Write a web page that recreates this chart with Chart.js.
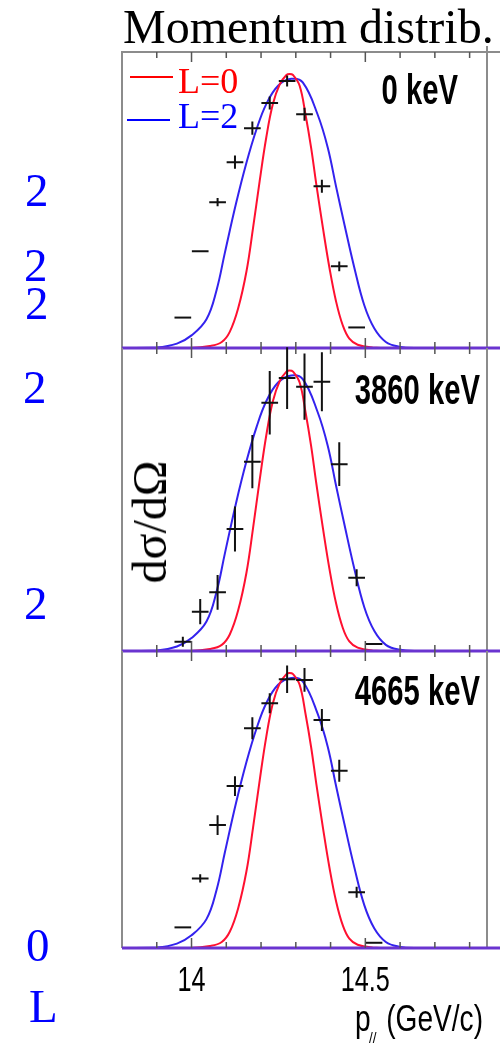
<!DOCTYPE html>
<html>
<head>
<meta charset="utf-8">
<script src="https://cdn.jsdelivr.net/npm/chart.js"></script>
<style>
  body { margin: 0; background: #fff; width: 500px; height: 1055px; position: relative; overflow: hidden; }
  canvas { position: absolute; left: 0; top: 0; }
  .serif { position: absolute; font-family: "Liberation Serif", "Times New Roman", serif; line-height: 1; white-space: nowrap; }
  .side { color: #0000ff; font-size: 47px; }
  .key { position: absolute; height: 2px; }
</style>
</head>
<body>
<canvas id="panel1" width="500" height="1055"></canvas>
<canvas id="panel2" width="500" height="1055"></canvas>
<canvas id="panel3" width="500" height="1055"></canvas>

<div class="serif" style="left:123px; top:3px; font-size:48px; color:#000;">Momentum distrib.</div>

<div class="key" style="left:130px; top:76px; width:43px; background:#ff0000;"></div>
<div class="serif" style="left:178px; top:63px; font-size:36px; color:#ff0000;">L=0</div>
<div class="key" style="left:127px; top:119px; width:43px; background:#0000ff;"></div>
<div class="serif" style="left:178px; top:98px; font-size:36px; color:#0000ff;">L=2</div>

<div class="serif" style="left:150px; top:522px; font-size:48px; color:#000; transform: translate(-50%, -50%) rotate(-90deg);">dσ/dΩ</div>

<div class="serif side" style="left:25px; top:167px;">2</div>
<div class="serif side" style="left:24px; top:242px;">2</div>
<div class="serif side" style="left:25px; top:280px;">2</div>
<div class="serif side" style="left:23px; top:364px;">2</div>
<div class="serif side" style="left:24px; top:580px;">2</div>
<div class="serif side" style="left:26px; top:922px;">0</div>
<div class="serif side" style="left:29px; top:983px;">L</div>

<script>
// momentum axis (GeV/c)
const xMin = 13.8;
const xMax = 14.85;
const xTicks = [13.9, 14.0, 14.1, 14.2, 14.3, 14.4, 14.5, 14.6, 14.7, 14.8];
const majorTicks = [14.0, 14.5];
const majorLabels = ['14', '14.5'];
const yMax = 1.08;

const panelLabels = ['0 keV', '3860 keV', '4665 keV'];

// measured points (bin centres), shared by all panels
const pointX = [13.975, 14.025, 14.075, 14.125, 14.175, 14.225, 14.275, 14.325, 14.375, 14.425, 14.475, 14.525];
const binHalf = 0.024;

const panel1Y = [0.111, 0.353, 0.532, 0.678, 0.802, 0.894, 0.974, 0.853, 0.590, 0.298, 0.075];
const panel1Err = [0, 0, 0.015, 0.024, 0.024, 0.024, 0.02, 0.024, 0.024, 0.018, 0];

const panel2Y = [0.033, 0.140, 0.209, 0.435, 0.675, 0.885, 0.973, 0.942, 0.960, 0.666, 0.261, 0.025];
const panel2Err = [0.018, 0.045, 0.062, 0.080, 0.095, 0.113, 0.110, 0.118, 0.105, 0.078, 0.030, 0];

const panel3Y = [0.075, 0.253, 0.447, 0.589, 0.799, 0.890, 0.977, 0.975, 0.829, 0.645, 0.203, 0.019];
const panel3Err = [0, 0.015, 0.036, 0.036, 0.040, 0.036, 0.050, 0.043, 0.040, 0.040, 0.020, 0];

// calculated L=0 curve
const redX = [13.8, 13.996, 14.053, 14.087, 14.110, 14.134, 14.158, 14.177, 14.196, 14.215, 14.234, 14.254, 14.273, 14.282,
  14.292, 14.311, 14.328, 14.344, 14.359, 14.378, 14.397, 14.416, 14.435, 14.454, 14.478, 14.521, 14.578, 14.846];
const redY = [0, 0, 0.007, 0.022, 0.059, 0.144, 0.279, 0.438, 0.609, 0.768, 0.890, 0.963, 0.996, 1.0,
  0.996, 0.957, 0.851, 0.731, 0.597, 0.438, 0.291, 0.169, 0.083, 0.034, 0.012, 0.002, 0, 0];

// calculated L=2 curve
const blueX = [13.8, 13.900, 13.958, 14.0, 14.043, 14.072, 14.096, 14.128, 14.158, 14.187, 14.215, 14.249, 14.287,
  14.320, 14.363, 14.392, 14.416, 14.440, 14.468, 14.497, 14.526, 14.559, 14.597, 14.645, 14.846];
const blueY = [0, 0.002, 0.016, 0.046, 0.105, 0.211, 0.348, 0.527, 0.676, 0.798, 0.890, 0.957, 0.982,
  0.969, 0.851, 0.731, 0.588, 0.450, 0.295, 0.156, 0.071, 0.022, 0.005, 0, 0];

const RED = '#ff1030';
const BLUE = '#3322ee';

// squeezed helvetica-like text, as in the original figure
function squeezed(ctx, text, x, y, sx, align) {
  ctx.save();
  ctx.translate(x, y);
  ctx.scale(sx, 1);
  ctx.textAlign = align;
  ctx.fillText(text, 0, 0);
  ctx.restore();
}

const framePlugin = {
  id: 'frame',
  afterDatasetsDraw(chart, args, o) {
    const { ctx, chartArea: a, scales: { x, y } } = chart;
    ctx.save();

    // data points with error bars
    ctx.strokeStyle = '#111';
    ctx.lineWidth = 2;
    chart.data.datasets[2].data.forEach(p => {
      const px = x.getPixelForValue(p.x);
      const py = y.getPixelForValue(p.y);
      ctx.beginPath();
      ctx.moveTo(x.getPixelForValue(p.x - binHalf), py);
      ctx.lineTo(x.getPixelForValue(p.x + binHalf), py);
      if (p.err > 0) {
        ctx.moveTo(px, y.getPixelForValue(p.y + p.err));
        ctx.lineTo(px, y.getPixelForValue(p.y - p.err));
      }
      ctx.stroke();
    });

    // frame
    ctx.strokeStyle = '#8c8c8c';
    ctx.lineWidth = 2;
    ctx.beginPath();
    ctx.moveTo(a.left, a.bottom);
    ctx.lineTo(a.left, a.top);
    if (o.topLine) ctx.lineTo(chart.width, a.top);
    ctx.moveTo(a.right, a.top - (o.topLine ? 6 : 0));
    ctx.lineTo(a.right, a.bottom);
    ctx.stroke();

    // zero line
    ctx.strokeStyle = '#6a34d0';
    ctx.lineWidth = 3;
    ctx.beginPath();
    ctx.moveTo(a.left, a.bottom);
    ctx.lineTo(chart.width, a.bottom);
    ctx.stroke();

    // inward ticks top and bottom
    ctx.strokeStyle = '#555';
    ctx.lineWidth = 1.5;
    ctx.beginPath();
    xTicks.forEach(v => {
      const px = x.getPixelForValue(v);
      const len = majorTicks.includes(v) ? 10 : 6;
      ctx.moveTo(px, a.top);
      ctx.lineTo(px, a.top + len);
      ctx.moveTo(px, a.bottom);
      ctx.lineTo(px, a.bottom - len);
    });
    ctx.stroke();

    // panel label
    ctx.fillStyle = '#000';
    ctx.font = 'bold 43px "Liberation Sans", Arial, sans-serif';
    squeezed(ctx, o.label, o.labelRight, a.top + o.labelDrop, 0.68, 'right');

    // axis labels under the last panel
    if (o.axis) {
      ctx.font = '35px "Liberation Sans", Arial, sans-serif';
      majorTicks.forEach((v, i) => {
        squeezed(ctx, majorLabels[i], x.getPixelForValue(v), a.bottom + 43, 0.72, 'center');
      });
      ctx.font = '36px "Liberation Sans", Arial, sans-serif';
      squeezed(ctx, '(GeV/c)', 483, 1031, 0.78, 'right');
      squeezed(ctx, 'p', 355, 1031, 0.78, 'left');
      ctx.font = '15px "Liberation Sans", Arial, sans-serif';
      squeezed(ctx, '//', 369, 1043, 0.9, 'left');
    }
    ctx.restore();
  }
};

function makePanel(id, pad, ys, errs, opts) {
  const points = ys.map((v, i) => ({ x: pointX[i], y: v, err: errs[i] }));
  return new Chart(document.getElementById(id), {
    type: 'line',
    data: {
      datasets: [
        {
          label: 'L=0',
          data: redX.map((v, i) => ({ x: v, y: redY[i] })),
          borderColor: RED,
          borderWidth: 2,
          pointRadius: 0,
          tension: 0.4
        },
        {
          label: 'L=2',
          data: blueX.map((v, i) => ({ x: v, y: blueY[i] })),
          borderColor: BLUE,
          borderWidth: 2,
          pointRadius: 0,
          tension: 0.4
        },
        {
          label: 'data',
          data: points,
          showLine: false,
          pointRadius: 0
        }
      ]
    },
    options: {
      responsive: false,
      animation: false,
      layout: { padding: pad },
      scales: {
        x: { type: 'linear', min: xMin, max: xMax, display: false },
        y: { min: 0, max: yMax, display: false }
      },
      plugins: {
        legend: { display: false },
        tooltip: { enabled: false },
        frame: opts
      }
    },
    plugins: [framePlugin]
  });
}

makePanel('panel1', { left: 122, right: 13, top: 52, bottom: 707 }, panel1Y, panel1Err,
  { label: panelLabels[0], labelRight: 458, labelDrop: 52, topLine: true, axis: false });
makePanel('panel2', { left: 122, right: 13, top: 348, bottom: 404 }, panel2Y, panel2Err,
  { label: panelLabels[1], labelRight: 480, labelDrop: 56, topLine: false, axis: false });
makePanel('panel3', { left: 122, right: 13, top: 651, bottom: 107 }, panel3Y, panel3Err,
  { label: panelLabels[2], labelRight: 480, labelDrop: 54, topLine: false, axis: true });
</script>
</body>
</html>
